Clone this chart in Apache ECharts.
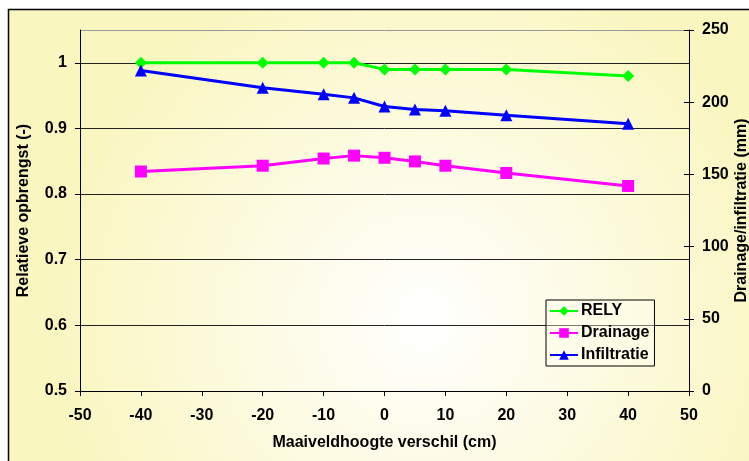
<!DOCTYPE html>
<html>
<head>
<meta charset="utf-8">
<script src="https://cdn.jsdelivr.net/npm/echarts@6/dist/echarts.min.js"></script>
<style>
  html, body { margin: 0; padding: 0; background: #ffffff; }
  #chart { width: 749px; height: 461px; }
</style>
</head>
<body>
<div id="chart"></div>
<script>
// Difference in surface level (cm)
const heightDiff = [-40, -20, -10, -5, 0, 5, 10, 20, 40];
// Relative yield (-)
const rely = [1.0, 1.0, 1.0, 1.0, 0.99, 0.99, 0.99, 0.99, 0.98];
// Drainage (mm)
const drainage = [152, 156, 161, 163, 161.5, 159, 156, 151, 142];
// Infiltration (mm)
const infiltratie = [222, 210, 205.5, 203, 197, 195, 194, 191, 185];

const seriesNames = ['RELY', 'Drainage', 'Infiltratie'];

const font = 'Liberation Sans, Arial, sans-serif';
const labelStyle = { fontFamily: font, fontWeight: 'bold', fontSize: 16, color: '#000' };

function pairs(ys) {
  return heightDiff.map((x, i) => [x, ys[i]]);
}

const chart = echarts.init(document.getElementById('chart'), null, { renderer: 'canvas' });

chart.setOption({
  animation: false,
  backgroundColor: '#ffffff',
  graphic: [{
    type: 'rect',
    z: -10,
    shape: { x: 8.5, y: 9.5, width: 800, height: 500 },
    style: {
      fill: {
        type: 'radial', x: 0.52, y: 0.62, r: 0.75,
        colorStops: [
          { offset: 0, color: '#ffffff' },
          { offset: 1, color: '#faf6c0' }
        ]
      },
      stroke: '#000',
      lineWidth: 1.5
    }
  }],
  grid: { left: 80, right: 60, top: 30, bottom: 70, containLabel: false, outerBoundsMode: 'none' },
  legend: {
    data: seriesNames,
    orient: 'vertical',
    left: 546,
    top: 300,
    padding: [3, 5, 3, 3],
    itemGap: 6,
    itemWidth: 28,
    itemHeight: 12,
    borderColor: '#000',
    borderWidth: 1,
    backgroundColor: 'rgba(255,255,240,0.4)',
    textStyle: Object.assign({}, labelStyle, { padding: [0, 0, 0, -2] })
  },
  xAxis: {
    type: 'value',
    min: -50, max: 50, interval: 10,
    name: 'Maaiveldhoogte verschil (cm)',
    nameLocation: 'middle',
    nameGap: 44,
    nameMoveOverlap: false,
    nameTextStyle: labelStyle,
    axisLine: { onZero: false, lineStyle: { color: '#000', width: 1 } },
    axisTick: { length: 5, lineStyle: { color: '#000' } },
    axisLabel: Object.assign({ margin: 17 }, labelStyle),
    splitLine: { show: false }
  },
  yAxis: [{
    type: 'value',
    min: 0.5, max: 1.05, interval: 0.1,
    position: 'left',
    name: 'Relatieve opbrengst (-)',
    nameLocation: 'middle',
    nameGap: 48,
    nameMoveOverlap: false,
    nameTextStyle: labelStyle,
    axisLine: { show: true, onZero: false, lineStyle: { color: '#000', width: 1 } },
    axisTick: { show: true, length: 5, lineStyle: { color: '#000' } },
    axisLabel: Object.assign({
      margin: 13,
      showMaxLabel: false,
      formatter: v => (Math.abs(v - 1.05) < 1e-6 ? '' : String(+v.toFixed(2)))
    }, labelStyle),
    splitLine: { show: true, lineStyle: { color: ['#000', '#222', '#222', '#222', '#222', '#222', '#999'], width: 1 } }
  }, {
    type: 'value',
    min: 0, max: 250, interval: 50,
    position: 'right',
    name: 'Drainage/infiltratie (mm)',
    nameLocation: 'middle',
    nameGap: 45,
    nameRotate: 90,
    nameMoveOverlap: false,
    nameTextStyle: labelStyle,
    axisLine: { show: true, onZero: false, lineStyle: { color: '#000', width: 1 } },
    axisTick: { show: true, length: 5, lineStyle: { color: '#000' } },
    axisLabel: Object.assign({ margin: 13 }, labelStyle),
    splitLine: { show: false }
  }, {
    // inner half of the right-hand tick marks
    type: 'value',
    min: 0, max: 250, interval: 50,
    position: 'right',
    axisLine: { show: false, onZero: false },
    axisTick: { show: true, inside: true, length: 5, lineStyle: { color: '#000' } },
    axisLabel: { show: false },
    splitLine: { show: false }
  }],
  series: [{
    name: 'RELY',
    type: 'line',
    yAxisIndex: 0,
    data: pairs(rely),
    symbol: 'diamond',
    symbolSize: 12,
    lineStyle: { color: '#00ff00', width: 3 },
    itemStyle: { color: '#00ff00' },
    z: 3
  }, {
    name: 'Drainage',
    type: 'line',
    yAxisIndex: 1,
    data: pairs(drainage),
    symbol: 'rect',
    symbolSize: 12,
    lineStyle: { color: '#ff00ff', width: 3 },
    itemStyle: { color: '#ff00ff' },
    z: 3
  }, {
    name: 'Infiltratie',
    type: 'line',
    yAxisIndex: 1,
    data: pairs(infiltratie),
    symbol: 'triangle',
    symbolSize: 12,
    lineStyle: { color: '#0000ff', width: 3 },
    itemStyle: { color: '#0000ff' },
    z: 3
  }]
});
</script>
</body>
</html>
